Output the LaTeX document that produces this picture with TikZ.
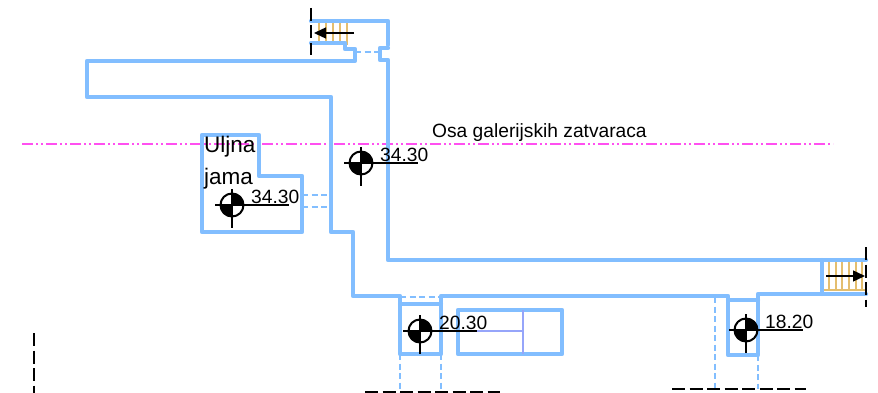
\documentclass[tikz,border=0pt]{standalone}
\usepackage{fontspec}
\setmainfont{Liberation Sans}
\definecolor{wallc}{RGB}{130,190,255}
\definecolor{dashc}{RGB}{130,190,255}
\definecolor{stairc}{RGB}{228,190,110}
\definecolor{axisc}{RGB}{255,80,240}
\definecolor{thinc}{RGB}{150,165,250}
\usetikzlibrary{arrows.meta}
\tikzset{
  wall/.style={draw=wallc,line width=4.2pt,line join=round,line cap=round},
  hidden/.style={draw=dashc,line width=1.3pt,dash pattern=on 6pt off 3.5pt},
  tread/.style={draw=stairc,line width=1.4pt},
  cutline/.style={draw=black,line width=2.2pt,dash pattern=on 13pt off 4.5pt},
  run/.style={draw=black,line width=1.4pt,-{Triangle[length=12pt,width=11pt]}},
  lvl/.style={font=\fontsize{19.2}{19}\selectfont,inner sep=0pt,anchor=base west},
  lbl/.style={font=\fontsize{22.5}{31}\selectfont,inner sep=0pt,anchor=base west},
}
\newcommand{\levelmark}[3]{%
  \fill (#1,#2) -- ++(-12,0) arc[start angle=180,end angle=90,radius=12] -- cycle;
  \fill (#1,#2) -- ++(12,0) arc[start angle=0,end angle=-90,radius=12] -- cycle;
  \draw[line width=2pt] (#1,#2) circle[radius=11.5];
  \draw[line width=1.8pt] (#1-17,#2) -- (#1+57,#2);
  \draw[line width=1.8pt] (#1,#2-16) -- (#1,#2+23);
  \node[lvl] at (#1+19,#2-2) {#3};
}
\begin{document}
\begin{tikzpicture}[x=1pt,y=-1pt]
\useasboundingbox (0,0) rectangle (878,393);
% axis
\draw[axisc,line width=1.4pt,dash pattern=on 11pt off 3pt on 2pt off 3pt on 2pt off 3pt] (22,144) -- (833,144);
% hidden lines
\draw[hidden] (355,52) -- (379,52);
\draw[hidden] (302,195) -- (331,195);
\draw[hidden] (302,207) -- (331,207);
\draw[hidden] (400,297) -- (441,297);
\draw[hidden] (400,354) -- (400,392);
\draw[hidden] (441,354) -- (441,392);
\draw[hidden] (715,297) -- (715,389);
\draw[hidden] (758,355) -- (758,389);
% treads
\foreach \x in {319,326,333,340,347} \draw[tread] (\x,21) -- (\x,45);
\foreach \x in {829,836,842,849,856,862} \draw[tread] (\x,260) -- (\x,290);
\draw[tread] (822,290) -- (866,290);
% walls
\draw[wall] (311,21) -- (388,21) -- (388,45);
\draw[wall] (388,48) -- (380,48) -- (380,60) -- (388,60) -- (388,260) -- (866,260);
\draw[wall] (311,43) -- (345,43) -- (345,49) -- (355,49) -- (355,61) -- (87,61) -- (87,97) -- (331,97) -- (331,232) -- (353,232) -- (353,296) -- (400,296) -- (400,354) -- (441,354) -- (441,296) -- (728,296) -- (728,355) -- (758,355) -- (758,294) -- (866,294);
\draw[wall] (400,304) -- (441,304);
\draw[wall] (728,300) -- (758,300);
\draw[wall] (822,260) -- (822,294);
\draw[wall] (202,135) -- (259,135) -- (259,176) -- (302,176) -- (302,232) -- (202,232) -- cycle;
\draw[wall] (458,310) rectangle (562,354);
\draw[thinc,line width=1.3pt] (523,310) -- (523,354);
\draw[thinc,line width=1.3pt] (458,331) -- (523,331);
% cut lines
\draw[cutline] (311,8) -- (311,55);
\draw[cutline] (866,247) -- (866,307);
\draw[cutline] (34,333) -- (34,393);
\draw[cutline] (365,392) -- (500,392);
\draw[cutline] (672,389) -- (806,389);
% stair arrows
\draw[run] (354,33) -- (314,33);
\draw[run] (826,276) -- (865,276);
% level marks
\levelmark{232}{205}{34.30}
\levelmark{361}{163}{34.30}
\levelmark{420}{331}{20.30}
\levelmark{746}{330}{18.20}
% labels
\node[lvl] (axislabel) at (432,138) {Osa galerijskih zatvaraca};
\node[lbl] (oilone) at (204,153) {Uljna};
\node[lbl] (oiltwo) at (204,184) {jama};
\end{tikzpicture}
\end{document}
